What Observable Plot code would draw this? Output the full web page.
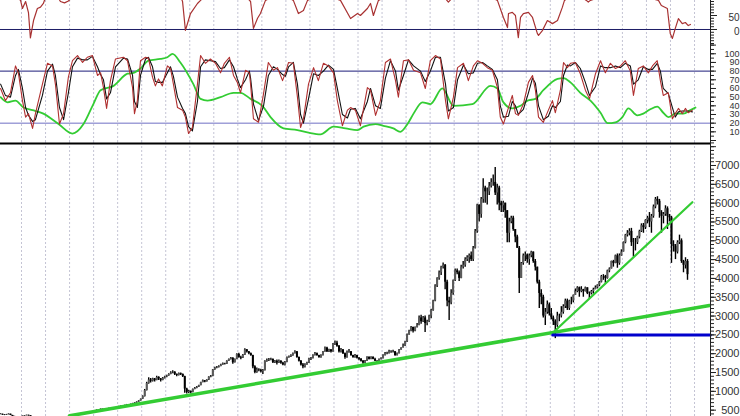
<!DOCTYPE html>
<html><head><meta charset="utf-8">
<script src="https://cdn.jsdelivr.net/npm/d3@7"></script>
<script src="https://cdn.jsdelivr.net/npm/@observablehq/plot@0.6"></script>
<style>
body{margin:0;background:#fff}
#c{position:relative;width:740px;height:416px;overflow:hidden;background:#fff}
.pn{position:absolute;left:0;width:740px;overflow:hidden}
.pn svg{display:block}
</style>
</head><body><div id="c"></div>
<script>
// ---------- DATA ----------
const START_YEAR = 1980; // monthly bars from Jan 1980
const priceClose = [
385,390,372,365,378,392,360,332,322,312,306,316,
340,352,362,350,290,272,280,285,270,278,285,290,
300,305,310,318,320,305,300,298,310,320,325,335,
352,365,378,392,402,410,420,415,428,440,448,460,
485,500,510,525,505,510,520,545,555,548,560,575,
595,605,615,625,645,635,655,675,690,715,745,790,
860,1020,1210,1300,1270,1330,1290,1370,1330,1290,1350,1380,
1410,1450,1490,1510,1450,1420,1470,1450,1390,1060,970,1000,
965,1050,1080,1110,1150,1230,1280,1250,1300,1380,1400,1570,
1620,1640,1660,1700,1730,1720,1800,1850,1880,1760,1850,1980,
1900,1880,1960,2100,2050,2000,1950,1650,1500,1570,1560,1520,
1550,1800,1820,1830,1850,1760,1800,1750,1800,1750,1700,1770,
1900,1920,1950,2000,2050,1900,1800,1700,1650,1700,1750,1860,
1880,1950,2000,1950,1900,1950,2050,2150,2050,2100,2050,2260,
2280,2200,2050,2100,2000,1900,2050,2050,1950,1900,1950,1880,
1850,1800,1750,1800,1900,1850,1900,1850,1800,1750,1850,1870,
1950,2000,2000,2050,2050,2050,1950,2000,2100,2150,2200,2310,
2500,2600,2700,2600,2700,2750,2950,2850,2950,2800,2850,3000,
3150,3400,3800,4000,4150,4300,4350,3900,3400,3350,3600,3940,
4200,4150,4000,4300,4350,4500,4550,4600,4500,4800,5250,5950,
5700,6100,6400,6300,6300,6450,6550,6550,6270,6400,6000,5930,
6000,5800,5200,5500,5600,5300,5100,4800,4000,4400,4600,4620,
4500,4600,4700,4450,4300,3900,3600,3500,3000,3100,3300,3060,
2950,2850,2750,3000,3000,3100,3250,3400,3200,3400,3400,3550,
3650,3750,3650,3700,3650,3750,3600,3600,3650,3700,3750,3820,
3900,4050,4050,4000,4200,4250,4450,4400,4600,4400,4600,4700,
4950,5150,5200,5250,4950,4950,4950,5100,5250,5400,5350,5540,
5600,5500,5650,5900,6100,6050,5750,5650,5700,5850,5650,5610,
4900,4850,4700,4950,5000,4450,4350,4450,4100];
const priceHigh = [
398,402,395,380,388,402,395,362,338,328,318,322,
345,358,368,368,352,298,288,292,288,285,292,296,
305,310,315,322,328,322,308,305,315,325,330,340,
358,370,385,398,408,415,425,426,432,445,452,465,
492,508,518,532,528,518,525,552,562,560,566,580,
602,612,622,632,652,650,662,682,700,722,752,798,
880,1050,1240,1360,1340,1350,1340,1400,1390,1340,1370,1400,
1430,1470,1520,1550,1520,1460,1490,1490,1460,1400,1080,1030,
1010,1060,1100,1130,1165,1240,1300,1290,1310,1390,1420,1580,
1640,1660,1680,1720,1750,1745,1810,1860,1900,1890,1860,2000,
2010,1930,1980,2130,2110,2060,2020,1960,1680,1620,1600,1590,
1580,1810,1860,1870,1880,1860,1820,1830,1830,1810,1770,1790,
1910,1940,1970,2020,2080,2060,1910,1820,1740,1730,1770,1880,
1900,1970,2030,2020,1960,1970,2060,2180,2170,2120,2110,2270,
2340,2330,2220,2140,2110,2020,2070,2110,2060,1960,1980,1960,
1900,1870,1820,1820,1920,1920,1920,1920,1880,1810,1860,1890,
1970,2030,2040,2090,2080,2090,2060,2020,2110,2160,2260,2330,
2520,2620,2720,2700,2710,2800,3000,3020,2990,3000,2890,3020,
3180,3420,3830,4020,4200,4320,4410,4370,3950,3500,3700,3960,
4250,4250,4200,4350,4450,4550,4600,4650,4700,4850,5300,5970,
5950,6150,6650,6450,6400,6550,6650,6750,6944,6500,6450,6050,
6050,6000,5800,5600,5650,5650,5300,5150,4850,4420,4650,4700,
4650,4650,4720,4700,4500,4300,3950,3700,3550,3200,3400,3350,
3200,3000,2900,3100,3050,3250,3300,3450,3450,3420,3500,3560,
3720,3780,3770,3780,3710,3770,3750,3640,3680,3740,3800,3830,
3920,4080,4100,4080,4220,4280,4460,4480,4620,4650,4650,4760,
4970,5170,5270,5320,5330,5060,5060,5120,5280,5450,5460,5560,
5650,5750,5700,5950,6150,6170,6100,5800,5750,5930,5900,5700,
5650,5000,4900,5000,5150,5050,4480,4550,4500];
const priceLow = [
372,378,362,355,360,375,355,328,315,305,300,304,
312,336,348,340,280,262,268,275,262,265,275,280,
288,296,302,308,312,300,295,292,296,308,316,322,
332,348,362,375,388,398,405,408,412,425,438,445,
458,480,495,505,495,498,505,518,540,540,545,555,
570,590,598,608,622,625,632,650,668,685,710,740,
785,850,1010,1190,1220,1250,1250,1280,1290,1250,1280,1330,
1360,1400,1440,1470,1420,1390,1410,1420,1370,950,930,940,
930,960,1040,1070,1100,1150,1225,1230,1245,1290,1360,1390,
1560,1600,1620,1650,1690,1700,1710,1790,1830,1720,1750,1840,
1880,1840,1870,1950,2020,1970,1930,1600,1470,1480,1520,1490,
1450,1540,1770,1790,1810,1740,1740,1700,1740,1720,1680,1670,
1760,1880,1900,1930,1990,1880,1780,1670,1600,1620,1690,1740,
1820,1860,1940,1930,1880,1880,1940,2040,2030,2030,2020,2040,
2220,2170,2020,2020,1980,1850,1880,2010,1930,1880,1880,1860,
1810,1780,1720,1740,1790,1830,1840,1840,1790,1720,1740,1830,
1860,1940,1970,1990,2010,2020,1930,1940,1990,2090,2150,2190,
2300,2490,2580,2550,2580,2680,2740,2780,2830,2560,2740,2830,
2930,3130,3380,3760,3950,4080,4250,3700,3250,2880,3300,3550,
3920,4100,3920,3990,4250,4300,4450,4400,4450,4450,4780,5200,
5500,5600,6000,6000,5950,6200,6400,6450,6200,5950,5800,5750,
5750,5600,4950,4950,5450,5250,4950,4800,3600,4000,4350,4450,
4400,4350,4550,4400,4200,3850,3200,3300,2950,2750,3050,3000,
2900,2750,2400,2700,2850,2950,3050,3200,3150,3150,3300,3350,
3550,3620,3500,3620,3500,3640,3570,3450,3560,3580,3700,3720,
3780,3880,3950,3870,3980,4150,4250,4300,4390,4270,4350,4590,
4700,4920,5100,5130,4850,4570,4730,4900,5050,5220,5200,5300,
5450,5350,5200,5600,5850,5950,5600,5200,5450,5650,5300,5500,
4400,4700,4500,4650,4900,4400,4150,4250,3950];

// Stochastic oscillator (%K red, %D black)
const stochDates = [1980.13,1980.33,1980.54,1980.75,1980.87,1981.04,1981.17,1981.29,1981.46,1981.58,1981.87,1982.08,1982.29,1982.41,1982.58,1982.75,1982.95,1983.12,1983.33,1983.54,1983.74,1983.95,1984.16,1984.29,1984.41,1984.54,1984.70,1984.91,1985.24,1985.41,1985.62,1985.70,1985.82,1985.95,1986.16,1986.28,1986.45,1986.57,1986.70,1986.86,1987.07,1987.20,1987.32,1987.49,1987.70,1987.82,1987.95,1988.11,1988.32,1988.45,1988.65,1988.86,1989.07,1989.28,1989.44,1989.65,1989.82,1989.98,1990.11,1990.32,1990.48,1990.53,1990.65,1990.86,1991.07,1991.27,1991.48,1991.65,1991.86,1991.98,1992.11,1992.31,1992.48,1992.61,1992.73,1992.94,1993.15,1993.35,1993.56,1993.77,1993.98,1994.14,1994.35,1994.56,1994.69,1994.89,1995.10,1995.39,1995.52,1995.73,1995.93,1996.14,1996.35,1996.56,1996.68,1996.89,1997.10,1997.31,1997.60,1997.80,1998.01,1998.22,1998.43,1998.64,1998.76,1998.97,1999.14,1999.39,1999.59,1999.80,1999.97,2000.18,2000.38,2000.59,2000.80,2000.92,2001.05,2001.26,2001.42,2001.55,2001.67,2001.88,2002.09,2002.26,2002.38,2002.51,2002.71,2002.92,2003.09,2003.21,2003.42,2003.55,2003.71,2003.84,2004.04,2004.25,2004.46,2004.63,2004.88,2005.09,2005.29,2005.50,2005.71,2005.92,2006.12,2006.33,2006.46,2006.66,2006.87,2007.08,2007.25,2007.45,2007.58,2007.70,2007.91,2008.08,2008.20,2008.33,2008.49,2008.62,2008.74,2008.91];
const stochK = [60,46,55,86,78,46,27,31,14,31,65,89,86,65,19,31,73,92,98,90,96,98,75,78,61,37,69,94,96,92,61,31,46,92,96,95,73,63,71,63,86,83,65,38,35,27,8,15,65,98,89,94,89,78,89,96,75,67,55,81,78,65,25,21,54,90,81,84,69,78,90,89,50,15,25,65,84,69,89,86,78,46,17,35,38,35,17,61,58,29,46,90,94,69,50,92,93,81,78,60,92,98,94,46,25,50,84,89,69,86,92,89,84,81,61,27,19,38,52,31,29,42,67,75,58,27,21,35,46,32,58,90,84,89,90,77,58,48,77,92,78,89,83,86,92,80,52,83,86,78,86,92,69,52,55,25,31,37,31,37,32,35];
const stochD = [65,52,50,75,82,60,38,29,22,24,52,80,88,75,38,24,55,85,95,93,93,97,85,76,70,48,55,85,95,94,75,45,38,75,94,96,85,68,67,67,78,85,74,50,37,31,16,11,45,85,93,92,91,83,84,93,85,71,61,70,80,72,42,23,40,75,85,82,76,74,85,90,65,30,20,48,77,75,80,87,82,60,30,26,36,37,25,45,60,40,37,72,92,80,58,75,93,86,80,68,80,96,96,65,34,38,70,87,77,78,89,90,86,82,70,40,27,28,45,40,30,36,55,72,66,40,24,28,40,38,45,75,87,86,90,83,67,52,62,86,84,84,86,84,89,86,65,70,85,82,82,89,80,60,54,38,27,33,34,34,34,33];

// Slow green oscillator
const slowDates = [1980.13,1980.42,1980.75,1981.08,1981.46,1981.91,1982.54,1983.12,1983.58,1983.99,1984.29,1984.83,1985.41,1985.66,1985.95,1986.28,1986.78,1987.07,1987.28,1987.61,1988.15,1988.45,1988.74,1989.28,1989.82,1990.11,1990.53,1991.02,1991.36,1991.90,1992.48,1992.94,1993.44,1993.98,1994.48,1994.98,1995.23,1995.73,1996.06,1996.47,1996.76,1997.06,1997.31,1997.68,1998.01,1998.51,1998.97,1999.76,2000.51,2000.80,2001.05,2001.42,2001.76,2002.05,2002.38,2002.71,2003.30,2003.55,2003.84,2004.25,2004.67,2005.09,2005.38,2005.71,2006.00,2006.25,2006.62,2006.87,2007.16,2007.45,2007.70,2007.91,2008.20,2008.54,2008.83,2009.04];
const slowValues = [50,44,46,38,35,31,19,8,19,42,58,63,77,78,83,92,94,96,100,90,65,48,46,50,55,55,48,40,27,14,12,9,7,16,14,12,16,19,17,14,10,19,31,44,42,60,40,42,63,60,44,37,40,46,48,58,71,72,67,55,46,32,20,21,27,37,29,31,36,39,32,27,31,31,35,38];

// Momentum (top panel, mostly above the visible range)
const momDates = [1980.13,1980.87,1980.96,1981.04,1981.17,1981.29,1981.37,1981.50,1981.66,1981.79,1981.91,1982.00,1982.41,1982.62,1982.79,1982.95,1983.45,1985.53,1987.61,1987.70,1987.82,1988.03,1988.32,1988.45,1988.86,1990.32,1990.53,1990.65,1990.82,1990.94,1991.15,1991.77,1992.31,1992.52,1992.73,1992.90,1993.44,1994.27,1994.69,1994.98,1995.10,1995.39,1995.52,1995.64,1995.85,1996.76,1998.64,1998.76,1998.89,1999.68,2000.80,2001.05,2001.22,2001.26,2001.42,2001.55,2001.67,2001.76,2001.88,2002.09,2002.26,2002.46,2002.51,2002.67,2002.88,2003.09,2003.30,2003.50,2003.59,2004.04,2004.50,2004.58,2004.67,2005.92,2007.50,2007.62,2007.87,2007.99,2008.08,2008.20,2008.33,2008.49,2008.62,2008.74,2008.83];
const momValues = [150,110,104,75,100,60,-30,32,75,80,93,115,130,100,95,102,140,140,120,100,-3,57,93,104,140,120,100,4,40,57,104,130,104,57,68,104,130,104,39,57,50,75,93,50,104,140,110,98,110,150,104,43,7,57,61,50,-29,43,57,61,43,-14,-21,-4,32,21,32,79,104,130,104,98,104,140,104,86,75,-14,-32,4,39,21,25,14,18];

// Trend lines and support level (date, price)
const longTrend = [[1983.0, 350], [2009.62, 3281]];
const shortTrend = [[2003.13, 2571], [2008.91, 6025]];
const supportLevel = [[2003.10, 2500], [2009.66, 2500]];

// Axis ticks / labels
const gridYears = d3.range(1981, 2010);
const momLabels = [0, 50];
const stochLabels = [10,20,30,40,50,60,70,80,90,100];
const priceLabels = [500,1000,1500,2000,2500,3000,3500,4000,4500,5000,5500,6000,6500,7000];

// ---------- LAYOUT ----------
const X_DOMAIN = [1980.126, 2009.665];
const X_END = X_DOMAIN[1];
const bars = priceClose.map((c, i) => ({
  date: START_YEAR + (i + 0.5) / 12,
  open: i ? priceClose[i - 1] : c,
  close: c, high: priceHigh[i], low: priceLow[i]
}));
const toPts = (ds, vs) => ds.map((d, i) => ({date: d, v: vs[i]}));

const container = document.getElementById("c");
function panel(top, height, yDomain, marks) {
  const div = document.createElement("div");
  div.className = "pn";
  div.style.top = top + "px";
  div.style.height = height + "px";
  const svg = Plot.plot({
    width: 740, height,
    marginLeft: 0, marginRight: 30, marginTop: 0, marginBottom: 0,
    x: {domain: X_DOMAIN, axis: null},
    y: {domain: yDomain, label: null},
    style: {background: "transparent", fontFamily: "Liberation Sans, Arial, sans-serif"},
    marks
  });
  div.appendChild(svg);
  container.appendChild(div);
}
const grid = () => Plot.ruleX(gridYears, {stroke: "#c4c4d4", strokeDasharray: "2,2"});
const axisLine = () => Plot.ruleX([X_END], {stroke: "#222"});
const labels = (vals, size, dy = 0) => Plot.text(vals, {x: () => X_END, y: d => d, text: d => String(d), dx: 29, dy, textAnchor: "end", fontSize: size, fill: "#333"});

// Top panel: momentum
panel(0, 44, [-53.6, 103.6], [
  grid(),
  Plot.ruleY([0], {stroke: "#1c1c66"}),
  Plot.line(toPts(momDates, momValues), {x: "date", y: "v", stroke: "#a83232", strokeWidth: 1.2}),
  axisLine(),
  Plot.axisY(d3.range(-50, 101, 10), {anchor: "right", tickSize: 3, tickFormat: () => "", stroke: "#222", label: null}),
  Plot.axisY(momLabels, {anchor: "right", tickSize: 6, tickFormat: () => "", stroke: "#222", label: null}),
  labels(momLabels, 10, 2)
]);

// Stochastic panel
panel(44, 98, [-2.3, 110.7], [
  grid(),
  Plot.ruleY([80], {stroke: "#1c1c7a"}),
  Plot.ruleY([20], {stroke: "#7070c4"}),
  Plot.line(toPts(slowDates, slowValues), {x: "date", y: "v", stroke: "#33cc33", strokeWidth: 1.8, curve: "monotone-x"}),
  Plot.line(toPts(stochDates, stochD), {x: "date", y: "v", stroke: "#111", strokeWidth: 1.1}),
  Plot.line(toPts(stochDates, stochK), {x: "date", y: "v", stroke: "#b03030", strokeWidth: 1.1}),
  axisLine(),
  Plot.axisY(d3.range(0, 111, 5), {anchor: "right", tickSize: 3, tickFormat: () => "", stroke: "#222", label: null}),
  Plot.axisY(d3.range(0, 111, 10), {anchor: "right", tickSize: 5, tickFormat: () => "", stroke: "#222", label: null}),
  labels(stochLabels, 9)
]);

// Price panel
panel(142, 274, [331.5, 7611], [
  grid(),
  Plot.ruleX(bars, {x: "date", y1: "low", y2: "high", stroke: "#000", strokeWidth: 1.4}),
  Plot.ruleX(bars, {x: "date", y1: "open", y2: "close", stroke: d => d.close >= d.open ? "#5a5a5a" : "#000", strokeWidth: 2}),
  Plot.line(longTrend, {x: d => d[0], y: d => d[1], stroke: "#33cc33", strokeWidth: 3.5}),
  Plot.line(shortTrend, {x: d => d[0], y: d => d[1], stroke: "#33cc33", strokeWidth: 2.2}),
  Plot.line(supportLevel, {x: d => d[0], y: d => d[1], stroke: "#0000cc", strokeWidth: 3}),
  Plot.ruleY([7611], {stroke: "#000", strokeWidth: 2, dy: 1}),
  axisLine(),
  Plot.axisY(d3.range(400, 7601, 100), {anchor: "right", tickSize: 3, tickFormat: () => "", stroke: "#222", label: null}),
  Plot.axisY(d3.range(500, 7501, 500), {anchor: "right", tickSize: 5, tickFormat: () => "", stroke: "#222", label: null}),
  labels(priceLabels, 11)
]);
</script>
</body></html>
